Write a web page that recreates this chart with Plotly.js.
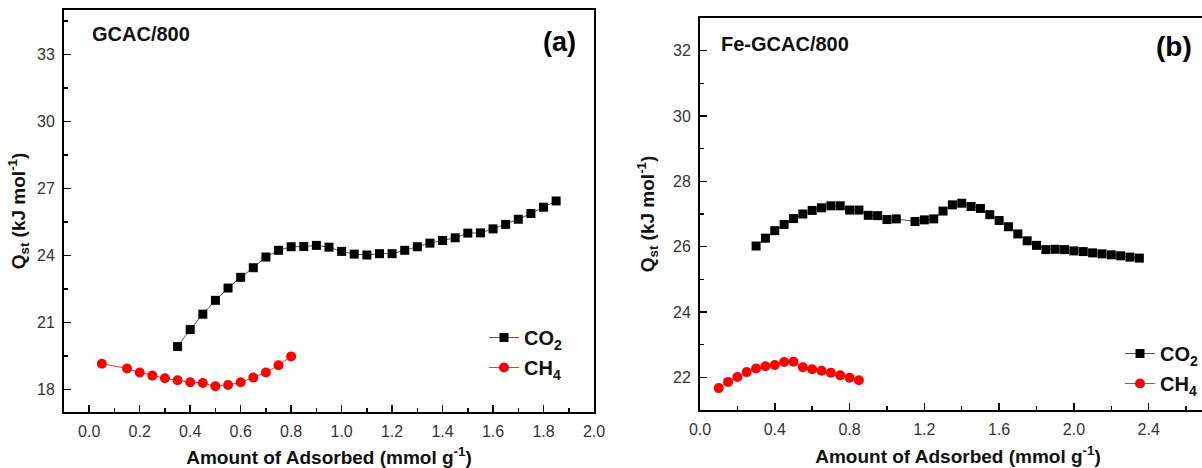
<!DOCTYPE html>
<html>
<head>
<meta charset="utf-8">
<script src="https://cdn.plot.ly/plotly-3.0.1.min.js"></script>
<style>
  html, body { margin: 0; padding: 0; background: #fff; overflow: hidden; width: 1202px; height: 468px; }
  #chart { width: 1240px; height: 468px; }
</style>
</head>
<body>
<div id="chart"></div>
<script>
// Panel (a) GCAC/800
const aCO2x = [0.35,0.40,0.45,0.50,0.55,0.60,0.65,0.70,0.75,0.80,0.85,0.90,0.95,1.00,1.05,1.10,1.15,1.20,1.25,1.30,1.35,1.40,1.45,1.50,1.55,1.60,1.65,1.70,1.75,1.80,1.85];
const aCO2y = [19.93,20.69,21.38,22.00,22.55,23.03,23.46,23.94,24.24,24.40,24.41,24.46,24.38,24.19,24.07,24.03,24.09,24.09,24.24,24.40,24.56,24.68,24.80,25.01,25.02,25.20,25.40,25.63,25.89,26.17,26.45];
const aCH4x = [0.05,0.15,0.20,0.25,0.30,0.35,0.40,0.45,0.50,0.55,0.60,0.65,0.70,0.75,0.80];
const aCH4y = [19.16,18.95,18.77,18.63,18.51,18.42,18.33,18.30,18.15,18.21,18.33,18.54,18.77,19.09,19.49];

// Panel (b) Fe-GCAC/800
const bCO2x = [0.30,0.35,0.40,0.45,0.50,0.55,0.60,0.65,0.70,0.75,0.80,0.85,0.90,0.95,1.00,1.05,1.15,1.20,1.25,1.30,1.35,1.40,1.45,1.50,1.55,1.60,1.65,1.70,1.75,1.80,1.85,1.90,1.95,2.00,2.05,2.10,2.15,2.20,2.25,2.30,2.35];
const bCO2y = [26.02,26.26,26.49,26.68,26.86,27.00,27.11,27.19,27.25,27.25,27.12,27.12,26.96,26.95,26.83,26.85,26.77,26.82,26.85,27.09,27.28,27.33,27.23,27.17,26.98,26.80,26.61,26.39,26.18,26.04,25.91,25.92,25.91,25.87,25.85,25.81,25.78,25.75,25.72,25.68,25.65];
const bCH4x = [0.10,0.15,0.20,0.25,0.30,0.35,0.40,0.45,0.50,0.55,0.60,0.65,0.70,0.75,0.80,0.85];
const bCH4y = [21.67,21.86,22.01,22.16,22.27,22.34,22.38,22.47,22.48,22.31,22.25,22.20,22.14,22.06,21.99,21.91];

const seriesNames = ['CO<sub>2</sub>', 'CH<sub>4</sub>'];
const panelLabels = ['GCAC/800', 'Fe-GCAC/800'];
const panelTags = ['(a)', '(b)'];
const xTitle = 'Amount of Adsorbed (mmol g<sup>-1</sup>)';
const yTitle = 'Q<sub>st</sub> (kJ mol<sup>-1</sup>)';

const W = 1240, H = 468;
const FONT = 'Liberation Sans, Arial, sans-serif';

function co2(x, y, xa, ya, lg) {
  return { x, y, xaxis: xa, yaxis: ya, legend: lg, name: seriesNames[0], type: 'scatter', mode: 'lines+markers',
    legendgroup: 'g1' + xa,
    line: { color: '#555', width: 1 }, marker: { symbol: 'square', size: 9, color: '#000' } };
}
function ch4(x, y, xa, ya, lg) {
  return { x, y, xaxis: xa, yaxis: ya, legend: lg, name: seriesNames[1], type: 'scatter', mode: 'lines+markers',
    legendgroup: 'g2' + xa,
    line: { color: '#ff3030', width: 1 }, marker: { symbol: 'circle', size: 10, color: '#ff0000' } };
}

const data = [
  co2(aCO2x, aCO2y, 'x', 'y', 'legend'),
  ch4(aCH4x, aCH4y, 'x', 'y', 'legend'),
  co2(bCO2x, bCO2y, 'x2', 'y2', 'legend2'),
  ch4(bCH4x, bCH4y, 'x2', 'y2', 'legend2')
];

const tickFont = { family: FONT, size: 16, color: '#333' };
const titleFont = { family: FONT, size: 19, color: '#111', weight: 'bold' };
const legFont = { family: FONT, size: 20, color: '#111', weight: 'bold' };

function axis(extra) {
  return Object.assign({
    showline: true, linecolor: '#000', linewidth: 2, mirror: true,
    ticks: 'inside', ticklen: 7, tickwidth: 1.5, tickcolor: '#000',
    showgrid: false, zeroline: false, tickfont: tickFont, ticklabelstandoff: 4
  }, extra);
}

const layout = {
  width: W, height: H,
  margin: { l: 0, r: 0, t: 0, b: 0 },
  paper_bgcolor: '#fff', plot_bgcolor: '#fff',
  font: { family: FONT },
  xaxis: axis({ domain: [64 / W, 594 / W], range: [-0.1, 2.0], tick0: 0, dtick: 0.2, tickformat: '.1f',
    minor: { dtick: 0.1, ticks: 'inside', ticklen: 4, tickwidth: 1.5, tickcolor: '#000' },
    anchor: 'y', title: { text: xTitle, font: titleFont, standoff: 14 } }),
  yaxis: axis({ domain: [(H - 412) / H, (H - 10) / H], range: [17, 35], tick0: 18, dtick: 3,
    minor: { dtick: 1.5, ticks: 'inside', ticklen: 4, tickwidth: 1.5, tickcolor: '#000' },
    anchor: 'x', title: { text: yTitle, font: titleFont, standoff: 6 } }),
  xaxis2: axis({ domain: [700 / W, 1216 / W], range: [0, 2.76], tick0: 0, dtick: 0.4, tickformat: '.1f',
    minor: { dtick: 0.2, ticks: 'inside', ticklen: 4, tickwidth: 1.5, tickcolor: '#000' },
    anchor: 'y2', title: { text: xTitle, font: titleFont, standoff: 12 } }),
  yaxis2: axis({ domain: [(H - 410) / H, (H - 18) / H], range: [21, 33], tick0: 22, dtick: 2,
    minor: { dtick: 1, ticks: 'inside', ticklen: 4, tickwidth: 1.5, tickcolor: '#000' },
    anchor: 'x2', title: { text: yTitle, font: titleFont, standoff: 13 } }),
  legend: { x: 484 / W, y: 1 - 318 / H, xanchor: 'left', yanchor: 'top', bgcolor: 'rgba(0,0,0,0)',
    traceorder: 'grouped', tracegroupgap: 1, font: legFont },
  legend2: { x: 1120 / W, y: 1 - 334 / H, xanchor: 'left', yanchor: 'top', bgcolor: 'rgba(0,0,0,0)',
    traceorder: 'grouped', tracegroupgap: 1, font: legFont },
  annotations: [
    { xref: 'paper', yref: 'paper', x: 90 / W, y: 1 - 34 / H, xanchor: 'left', yanchor: 'middle', showarrow: false,
      text: '<b>' + panelLabels[0] + '</b>', font: { family: FONT, size: 20, color: '#111' } },
    { xref: 'paper', yref: 'paper', x: 578 / W, y: 1 - 42 / H, xanchor: 'right', yanchor: 'middle', showarrow: false,
      text: '<b>' + panelTags[0] + '</b>', font: { family: FONT, size: 27, color: '#000' } },
    { xref: 'paper', yref: 'paper', x: 719 / W, y: 1 - 44 / H, xanchor: 'left', yanchor: 'middle', showarrow: false,
      text: '<b>' + panelLabels[1] + '</b>', font: { family: FONT, size: 20, color: '#111' } },
    { xref: 'paper', yref: 'paper', x: 1194 / W, y: 1 - 47 / H, xanchor: 'right', yanchor: 'middle', showarrow: false,
      text: '<b>' + panelTags[1] + '</b>', font: { family: FONT, size: 28, color: '#000' } }
  ],
  showlegend: true
};

Plotly.newPlot('chart', data, layout, { staticPlot: true, displayModeBar: false });
</script>
</body>
</html>
